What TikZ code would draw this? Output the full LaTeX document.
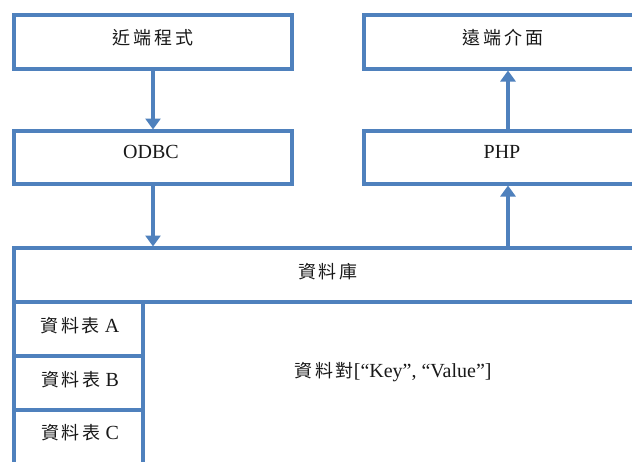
\documentclass[tikz,border=0pt]{standalone}
\usepackage{fontspec}
\setmainfont{Liberation Serif}
\newfontfamily\cjkf[LetterSpace=15]{Noto Sans CJK TC}
\usetikzlibrary{arrows.meta}
\definecolor{lineblue}{HTML}{4F81BD}
\begin{document}
\begin{tikzpicture}[x=1pt,y=-1pt,
  box/.style={draw=lineblue, line width=3.8pt, inner sep=0pt, outer sep=0pt, fill=white, anchor=north west},
  lbl/.style={inner sep=0pt, text=black!90, font=\fontsize{20}{22}\selectfont},
  cjklbl/.style={lbl, font=\fontsize{18}{20}\selectfont\cjkf},
  arr/.style={draw=lineblue, line width=3.8pt, shorten >=1.5pt, -{Triangle[length=11pt,width=15pt]}}]
\useasboundingbox (0,0) rectangle (632,461);
\clip (0,0) rectangle (632,461);
\fill[white] (0,0) rectangle (632,461);
% boxes
\node[box, minimum width=278pt, minimum height=54pt] (near) at (14,15) {};
\node[box, minimum width=278pt, minimum height=53pt] (odbc) at (14,131) {};
\node[box, minimum width=288pt, minimum height=54pt] (remote) at (364,15) {};
\node[box, minimum width=288pt, minimum height=53pt] (php) at (364,131) {};
\node[box, minimum width=638pt, minimum height=54pt] (db) at (14,248) {};
\node[box, minimum width=509pt, minimum height=162pt] (pair) at (143,302) {};
\node[box, minimum width=129pt, minimum height=54pt] (ta) at (14,302) {};
\node[box, minimum width=129pt, minimum height=54pt] (tb) at (14,356) {};
\node[box, minimum width=129pt, minimum height=54pt] (tc) at (14,410) {};
% labels
\node[cjklbl] (nearT) at (153,38) {近端程式};
\node[lbl] (odbcT) at (151,152) {ODBC};
\node[cjklbl] (remoteT) at (503,38) {遠端介面};
\node[lbl] (phpT) at (502,152) {PHP};
\node[cjklbl] (dbT) at (328,272) {資料庫};
\node[lbl] (taT) at (80,326) {{\fontsize{18}{20}\selectfont\cjkf 資料表} A};
\node[lbl] (tbT) at (80,380) {{\fontsize{18}{20}\selectfont\cjkf 資料表} B};
\node[lbl] (tcT) at (80,433) {{\fontsize{18}{20}\selectfont\cjkf 資料表} C};
\node[lbl] (pairT) at (393,372) {{\fontsize{18}{20}\selectfont\cjkf 資料對}[“Key”, “Value”]};
% arrows
\draw[arr] (near.south) -- (odbc.north);
\draw[arr] (odbc.south) -- (odbc.south |- db.north);
\draw[arr] (db.north -| php.south) -- (php.south);
\draw[arr] (php.north) -- (remote.south);
\end{tikzpicture}
\end{document}
